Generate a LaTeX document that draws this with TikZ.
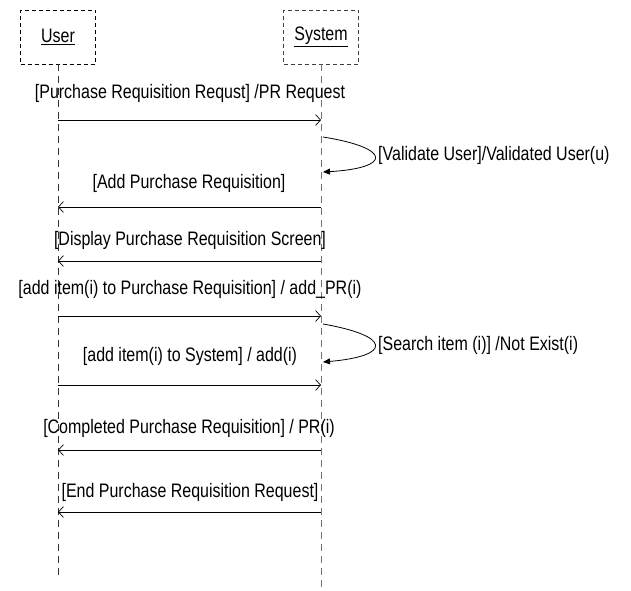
\documentclass[tikz,border=0pt]{standalone}
\usepackage{fontspec}
\setmainfont{Liberation Sans}[FakeStretch=0.82]
\usetikzlibrary{arrows.meta}
\begin{document}
\begin{tikzpicture}[x=1pt,y=-1pt,
  every node/.style={font=\fontsize{19.5}{22}\selectfont, inner sep=0pt},
  actor/.style={draw, dashed, dash pattern=on 4pt off 3pt, minimum width=75pt, minimum height=54pt, line width=0.6pt},
  lifeline/.style={dashed, dash pattern=on 7pt off 5pt, line width=0.7pt},
  msg/.style={line width=0.7pt, -{Straight Barb[length=5pt,width=11pt]}},
  selfmsg/.style={line width=0.8pt, -{Triangle[length=7pt,width=6pt]}},
  lbl/.style={anchor=center}]
\useasboundingbox (0,0) rectangle (631,590);
\node[actor] (user) at (58,37) {\underline{User}};
\node[actor, draw=black!75] (sys) at (321,37) {\underline{System}};
\coordinate (uend) at (58,577);
\coordinate (send) at (321,590);
\draw[lifeline, black!80] (user.south) -- (uend);
\draw[lifeline, black!55] (sys.south) -- (send);
% message 1
\coordinate (u1) at (58,120); \coordinate (s1) at (321,120);
\draw[msg] (u1) -- (s1);
\node[lbl] (l1) at (190,93) {[Purchase Requisition Requst] /PR Request};
% self 1
\coordinate (a1) at (323,137); \coordinate (b1) at (323,172);
\draw[selfmsg] (a1) .. controls (392,148) and (392,168) .. (b1);
\node[anchor=west] (l2) at (378,155) {[Validate User]/Validated User(u)};
% message 3
\coordinate (s3) at (321,207); \coordinate (u3) at (58,207);
\draw[msg] (s3) -- (u3);
\node[lbl] (l3) at (189,183) {[Add Purchase Requisition]};
% message 4
\coordinate (s4) at (321,261); \coordinate (u4) at (58,261);
\draw[msg] (s4) -- (u4);
\node[lbl] (l4) at (190,240) {[Display Purchase Requisition Screen]};
% message 5
\coordinate (u5) at (58,316); \coordinate (s5) at (321,316);
\draw[msg] (u5) -- (s5);
\node[lbl] (l5) at (190,289) {[add item(i) to Purchase Requisition] / add\_PR(i)};
% self 2
\coordinate (a2) at (323,324); \coordinate (b2) at (323,362);
\draw[selfmsg] (a2) .. controls (392,336) and (392,356) .. (b2);
\node[anchor=west] (l6) at (378,345) {[Search item (i)] /Not Exist(i)};
% message 7
\coordinate (u7) at (58,385); \coordinate (s7) at (321,385);
\draw[msg] (u7) -- (s7);
\node[lbl] (l7) at (190,356) {[add item(i) to System] / add(i)};
% message 8
\coordinate (s8) at (321,450); \coordinate (u8) at (58,450);
\draw[msg] (s8) -- (u8);
\node[lbl] (l8) at (189,428) {[Completed Purchase Requisition] / PR(i)};
% message 9
\coordinate (s9) at (321,512); \coordinate (u9) at (58,512);
\draw[msg] (s9) -- (u9);
\node[lbl] (l9) at (190,492) {[End Purchase Requisition Request]};
\end{tikzpicture}
\end{document}
